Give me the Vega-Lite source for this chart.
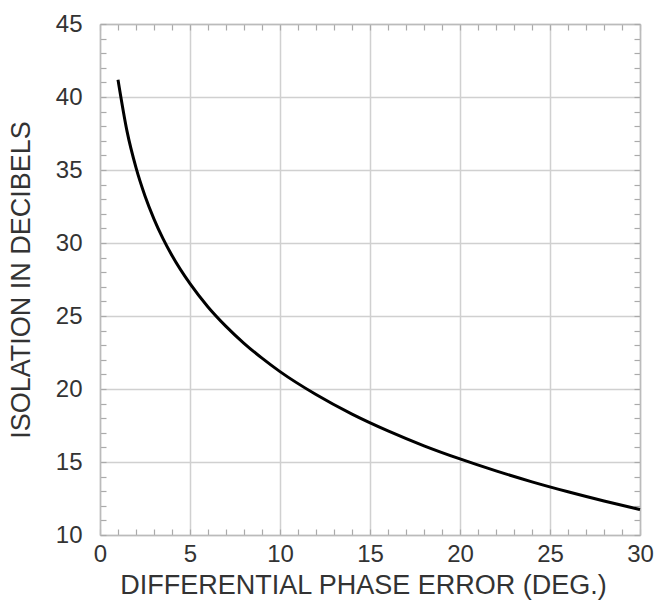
{
  "$schema": "https://vega.github.io/schema/vega-lite/v6.json",
  "width": 540,
  "height": 511,
  "autosize": {"type": "none"},
  "padding": {"left": 100, "top": 24, "right": 15, "bottom": 69},
  "background": "white",
  "config": {
    "view": {"stroke": null},
    "font": "Liberation Sans",
    "axis": {
      "labelFont": "Liberation Sans",
      "titleFont": "Liberation Sans",
      "labelColor": "#333",
      "titleColor": "#333",
      "titleFontWeight": "normal",
      "labelFontSize": 24,
      "titleFontSize": 27,
      "domainColor": "#bbb",
      "domainWidth": 1.5,
      "tickColor": "#aaa",
      "tickWidth": 1.2,
      "tickSize": -6,
      "gridColor": "#d0d0d0",
      "gridWidth": 1.5
    }
  },
  "data": {
    "values": [
      {"phase": 1, "iso": 41.18},
      {"phase": 1.5, "iso": 37.66},
      {"phase": 2, "iso": 35.16},
      {"phase": 2.5, "iso": 33.22},
      {"phase": 3, "iso": 31.64},
      {"phase": 3.5, "iso": 30.30},
      {"phase": 4, "iso": 29.14},
      {"phase": 5, "iso": 27.21},
      {"phase": 6, "iso": 25.62},
      {"phase": 7, "iso": 24.29},
      {"phase": 8, "iso": 23.13},
      {"phase": 9, "iso": 22.11},
      {"phase": 10, "iso": 21.19},
      {"phase": 12, "iso": 19.62},
      {"phase": 14, "iso": 18.28},
      {"phase": 16, "iso": 17.13},
      {"phase": 18, "iso": 16.11},
      {"phase": 20, "iso": 15.21},
      {"phase": 22, "iso": 14.39},
      {"phase": 24, "iso": 13.64},
      {"phase": 26, "iso": 12.96},
      {"phase": 28, "iso": 12.33},
      {"phase": 30, "iso": 11.74}
    ]
  },
  "layer": [
    {
      "mark": {"type": "line", "color": "black", "strokeWidth": 3, "interpolate": "monotone"},
      "encoding": {
        "x": {
          "field": "phase", "type": "quantitative",
          "scale": {"domain": [0, 30], "nice": false, "zero": false},
          "axis": {
            "orient": "bottom",
            "title": "DIFFERENTIAL PHASE ERROR (DEG.)",
            "values": [0,1,2,3,4,5,6,7,8,9,10,11,12,13,14,15,16,17,18,19,20,21,22,23,24,25,26,27,28,29,30],
            "labelExpr": "datum.value % 5 === 0 ? datum.label : ''",
            "grid": true,
            "gridOpacity": {"condition": {"test": "datum.value % 5 === 0", "value": 1}, "value": 0},
            "labelPadding": 13,
            "labelFlush": false,
            "titlePadding": 6,
            "titleX": 263
          }
        },
        "y": {
          "field": "iso", "type": "quantitative",
          "scale": {"domain": [10, 45], "nice": false, "zero": false},
          "axis": {
            "orient": "left",
            "title": "ISOLATION IN DECIBELS",
            "values": [10,11,12,13,14,15,16,17,18,19,20,21,22,23,24,25,26,27,28,29,30,31,32,33,34,35,36,37,38,39,40,41,42,43,44,45],
            "labelExpr": "datum.value % 5 === 0 ? datum.label : ''",
            "grid": true,
            "gridOpacity": {"condition": {"test": "datum.value % 5 === 0", "value": 1}, "value": 0},
            "labelPadding": 24,
            "labelFlush": false,
            "titlePadding": 20
          }
        }
      }
    },
    {
      "mark": {"type": "point", "opacity": 0},
      "encoding": {
        "x": {
          "field": "phase", "type": "quantitative",
          "axis": {
            "orient": "top",
            "title": null,
            "labels": false,
            "grid": false,
            "values": [0,1,2,3,4,5,6,7,8,9,10,11,12,13,14,15,16,17,18,19,20,21,22,23,24,25,26,27,28,29,30]
          }
        },
        "y": {
          "field": "iso", "type": "quantitative",
          "axis": {
            "orient": "right",
            "title": null,
            "labels": false,
            "grid": false,
            "values": [10,11,12,13,14,15,16,17,18,19,20,21,22,23,24,25,26,27,28,29,30,31,32,33,34,35,36,37,38,39,40,41,42,43,44,45]
          }
        }
      }
    }
  ],
  "resolve": {"axis": {"x": "independent", "y": "independent"}}
}
